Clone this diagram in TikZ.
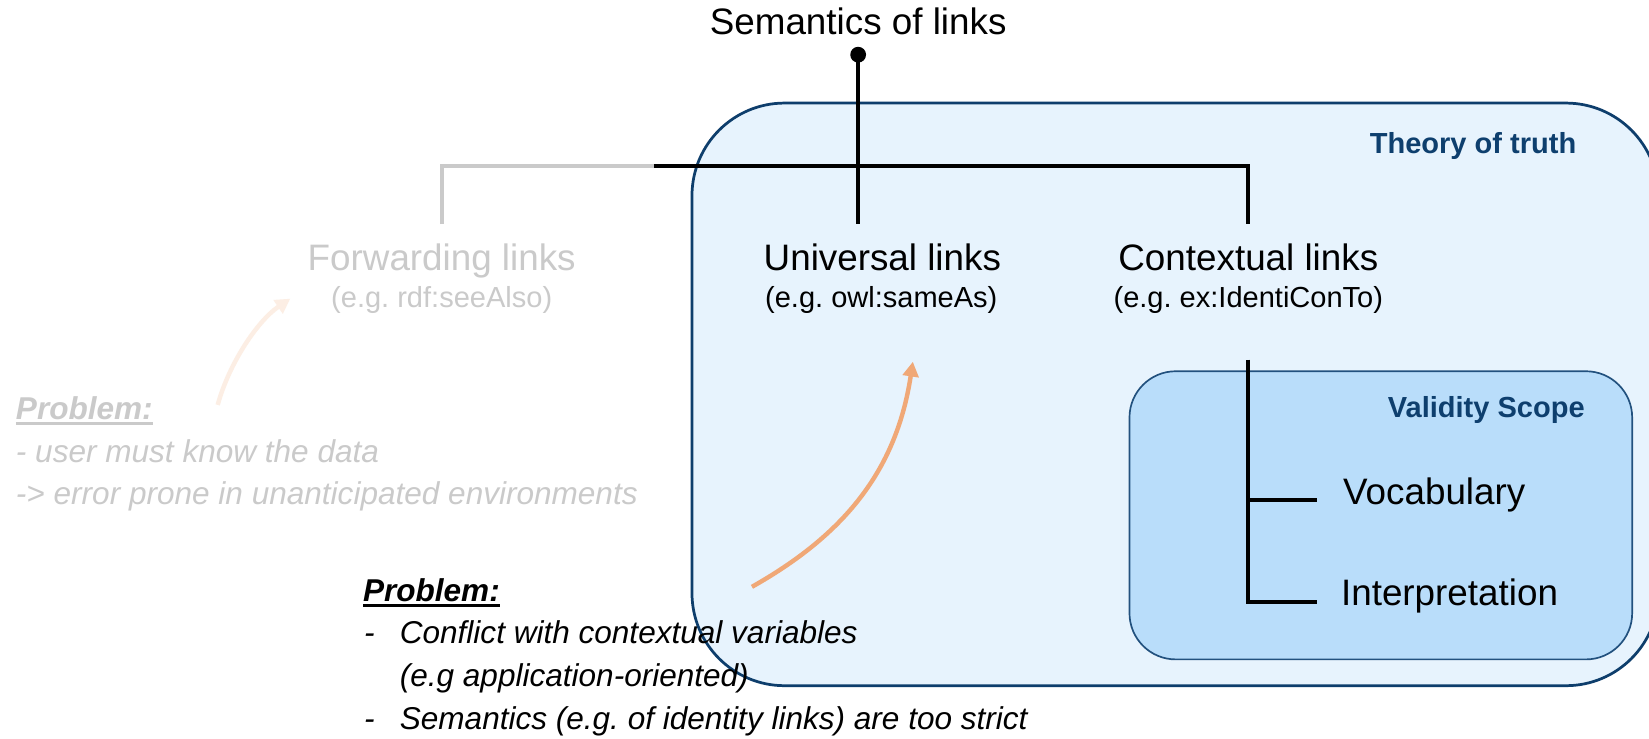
\documentclass[tikz,border=0pt]{standalone}
\usepackage{fontspec}
\setmainfont{Liberation Sans}
\usetikzlibrary{arrows.meta}
\frenchspacing

\definecolor{truthfill}{HTML}{E7F3FD}
\definecolor{truthline}{HTML}{0E3E6C}
\definecolor{scopefill}{HTML}{B9DDFA}
\definecolor{scopeline}{HTML}{22517E}
\definecolor{headblue}{HTML}{0E3F6E}
\definecolor{fadegrey}{HTML}{CACACA}
\definecolor{arroworange}{HTML}{F0A877}
\definecolor{fadeorange}{HTML}{FCEEE4}

% heavy underline for the note headings
\newcommand\heavyul[1]{\setbox0\hbox{#1}\rlap{\rule[-5pt]{\wd0}{2.4pt}}\box0}

\tikzset{
  big/.style={inner sep=0pt, font=\fontsize{35}{42}\selectfont},
  small/.style={inner sep=0pt, font=\fontsize{27.6}{33}\selectfont},
  head/.style={inner sep=0pt, text=headblue, font=\fontsize{27.6}{33}\selectfont\bfseries},
  note/.style={inner sep=0pt, font=\fontsize{30}{36}\selectfont\itshape},
  tree/.style={line width=3.8pt, black},
  fadetree/.style={line width=3.8pt, fadegrey},
  truthbox/.style={fill=truthfill, draw=truthline, line width=2.6pt, rounded corners=88pt},
  scopebox/.style={fill=scopefill, draw=scopeline, line width=1.6pt, rounded corners=44pt},
  hint/.style={line width=4.2pt, arroworange, -{Triangle[width=15pt,length=14pt]}},
  fadehint/.style={line width=4.2pt, fadeorange, -{Triangle[width=15pt,length=14pt]}},
}

\begin{document}
\begin{tikzpicture}[x=1pt, y=-1pt]
\clip (0,0) rectangle (1568,702);
\fill[white] (0,0) rectangle (1568,702);

% nested scopes
\draw[truthbox] (658,98) rectangle (1577,652);
\draw[scopebox] (1074,353) rectangle (1552,627);
\node[head, anchor=base east] (truth) at (1499,146) {Theory of truth};
\node[head, anchor=base east] (scope) at (1507,397) {Validity Scope};

% root of the tree
\node[big, anchor=base] (title) at (816,33) {Semantics of links};
\node[circle, fill=black, inner sep=0pt, minimum size=15pt] (root) at (816,52) {};

% branch points and leaf ends
\coordinate (split) at (622,158);
\coordinate (fwdEnd) at (420,213);
\coordinate (uniEnd) at (816,213);
\coordinate (ctxEnd) at (1187,213);
\coordinate (ctxStart) at (1187,342);
\coordinate (vocEnd) at (1252,475);
\coordinate (intEnd) at (1252,572);

\draw[fadetree] (fwdEnd) |- (split);
\draw[tree] (split) -| (ctxEnd);
\draw[tree] (root.center) -- (uniEnd);
\draw[tree] (ctxStart) |- (intEnd);
\draw[tree] (ctxStart |- vocEnd) -- (vocEnd);

% link kinds
\node[big, anchor=base, text=fadegrey] (fwd) at (420,257) {Forwarding links};
\node[small, anchor=base, text=fadegrey] (fwdEx) at (420,292) {(e.g. rdf:seeAlso)};
\node[big, anchor=base] (uni) at (839,257) {Universal links};
\node[small, anchor=base] (uniEx) at (838,292) {(e.g. owl:sameAs)};
\node[big, anchor=base] (ctx) at (1187,257) {Contextual links};
\node[small, anchor=base] (ctxEx) at (1187,292) {(e.g. ex:IdentiConTo)};
\node[big, anchor=base west] (voc) at (1277,480) {Vocabulary};
\node[big, anchor=base west] (int) at (1275,576) {Interpretation};

% faded problem note
\node[note, anchor=base west, text=fadegrey] (fp) at (15,399) {\heavyul{\bfseries Problem:}};
\node[note, anchor=base west, text=fadegrey] (fp1) at (15,440) {- user must know the data};
\node[note, anchor=base west, text=fadegrey] (fp2) at (15,480) {-> error prone in unanticipated environments};
\coordinate (fpStart) at (207,385);
\coordinate (fpTip) at (276,284);
\draw[fadehint] (fpStart) .. controls (218,345) and (245,305) .. (fpTip);

% problem note
\node[note, anchor=base west] (p) at (345,572) {\heavyul{\bfseries Problem:}};
\node[note, anchor=base west] (d1) at (346,612) {-};
\node[note, anchor=base west] (p1) at (380,612) {Conflict with contextual variables};
\node[note, anchor=base west] (p1b) at (380,653) {(e.g application-oriented)};
\node[note, anchor=base west] (d2) at (346,694) {-};
\node[note, anchor=base west] (p2) at (380,694) {Semantics (e.g. of identity links) are too strict};
\coordinate (pStart) at (715,558);
\coordinate (pTip) at (868,344);
\draw[hint] (pStart) .. controls (800,510) and (852,450) .. (pTip);
\end{tikzpicture}
\end{document}
